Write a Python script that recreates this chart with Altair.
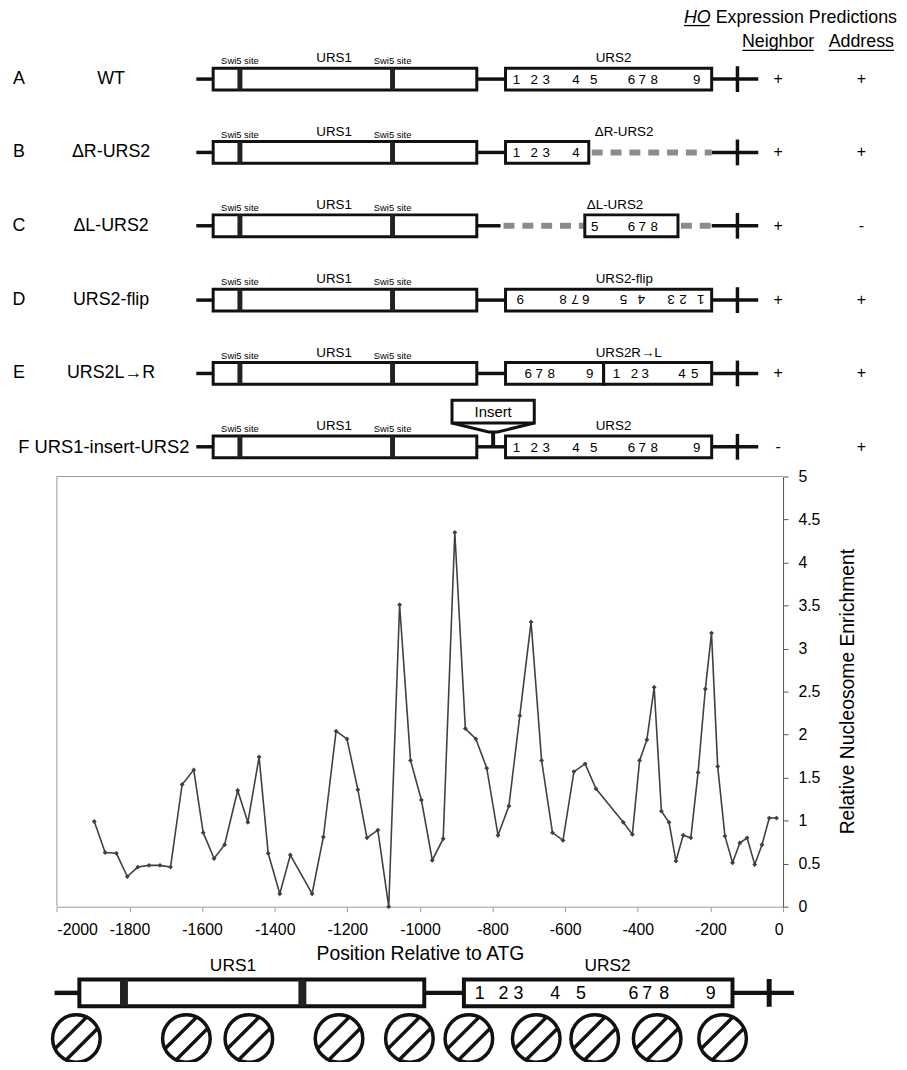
import altair as alt
import pandas as pd

# ---------------- data ----------------
POSITION = [-1897, -1867, -1836, -1806, -1777, -1746, -1716, -1687, -1655, -1623,
            -1597, -1567, -1538, -1502, -1474, -1443, -1418, -1386, -1357, -1297,
            -1266, -1231, -1201, -1171, -1146, -1116, -1086, -1056, -1026, -996,
            -966, -936, -904, -875, -846, -816, -785, -755, -725, -694,
            -665, -635, -606, -576, -545, -515, -440, -415, -395, -375,
            -355, -335, -314, -295, -275, -254, -234, -214, -197, -180,
            -160, -139, -119, -99, -78, -58, -38, -18]
ENRICHMENT = [0.99, 0.63, 0.62, 0.35, 0.46, 0.48, 0.48, 0.46, 1.42, 1.59,
              0.86, 0.56, 0.72, 1.35, 0.98, 1.74, 0.62, 0.15, 0.60, 0.15,
              0.81, 2.04, 1.95, 1.36, 0.80, 0.89, 0.00, 3.51, 1.70, 1.24,
              0.54, 0.79, 4.35, 2.07, 1.95, 1.61, 0.83, 1.17, 2.22, 3.31,
              1.70, 0.86, 0.77, 1.57, 1.66, 1.37, 0.98, 0.84, 1.70, 1.94,
              2.55, 1.11, 0.98, 0.53, 0.83, 0.80, 1.56, 2.53, 3.18, 1.63,
              0.82, 0.51, 0.74, 0.80, 0.49, 0.72, 1.03, 1.03]
X_TICKS = list(range(-2000, 1, 200))
Y_TICKS = [0, 0.5, 1, 1.5, 2, 2.5, 3, 3.5, 4, 4.5, 5]

ROW_LETTERS = ["A", "B", "C", "D", "E", "F"]
ROW_NAMES = ["WT", "\u0394R-URS2", "\u0394L-URS2", "URS2-flip", "URS2L\u2192R", "URS1-insert-URS2"]
URS2_NAMES = ["URS2", "\u0394R-URS2", "\u0394L-URS2", "URS2-flip", "URS2R\u2192L", "URS2"]
NEIGHBOR = ["+", "+", "+", "+", "+", "-"]
ADDRESS = ["+", "+", "-", "+", "+", "+"]
URS2_SITES = ["1", "2", "3", "4", "5", "6", "7", "8", "9"]
HEADER = "HO"
HEADER_REST = "Expression Predictions"
X_TITLE = "Position Relative to ATG"
Y_TITLE = "Relative Nucleosome Enrichment"

# ---------------- layout (schematic geometry, page pixels) ----------------
FONT = "Liberation Sans, Arial, Helvetica, sans-serif"
OX, OY = 8, 8          # page margin
W, H = 782, 902        # plot-area size used by the layered chart
PX = alt.Scale(domain=[OX, OX + W], range=[0, W], nice=False, zero=False)
PY = alt.Scale(domain=[OY, OY + H], range=[0, H], nice=False, zero=False)
XS = alt.Scale(domain=[-2000, 0], range=[57.3 - OX, 790 - OX], nice=False, zero=False)
YS = alt.Scale(domain=[0, 5], range=[910 - OY, 476 - OY], nice=False, zero=False)

ROW_Y = [75, 149, 223, 298, 372, 446]
HB = 11
URS1_BOX = (215, 481)
SWI5_X = [242, 396]
STUB = (198, 215)
RIGHT = (718, 765)
TICK_X = 744
URS2_BOXES = [[(510, 718)], [(510, 594)], [(590, 684)], [(510, 718)],
              [(510, 609), (609, 718)], [(510, 718)]]
CONNECT = [(481, 510), (481, 510), (481, 505), (481, 510), (481, 510), (481, 510)]
DASHES = [[], [(597, 718)], [(508, 590), (687, 718)], [], [], []]
SITE_X = [521, 539, 551, 581, 599, 637, 648, 660, 703]
ROW_SITES = [
    [(URS2_SITES[i], SITE_X[i], 0) for i in range(9)],
    [(URS2_SITES[i], SITE_X[i], 0) for i in range(4)],
    [("5", 600, 0), ("6", 637, 0), ("7", 648, 0), ("8", 660, 0)],
    [(URS2_SITES[i], 1228 - SITE_X[i], 180) for i in range(9)],
    [("6", 533, 0), ("7", 544, 0), ("8", 556, 0), ("9", 595, 0),
     ("1", 622, 0), ("2", 640, 0), ("3", 651, 0), ("4", 688, 0), ("5", 701, 0)],
    [(URS2_SITES[i], SITE_X[i], 0) for i in range(9)],
]
URS2_LABEL_LEFT = [601, 600, 592, 601, 601, 601]

# bottom map
BY = 997
B_BOXES = [(80, 428), (468, 739)]
B_SWI5 = [125, 305]
B_SITE_X = [484, 508, 523, 560, 586, 639, 653, 670, 717]
NUC_X = [77, 188, 251, 342, 413, 473, 541, 600, 663, 729]
NUC_Y = 1043
NUC_D = 48
NUC_PATH = ("M -1 0 A 1 1 0 1 1 1 0 A 1 1 0 1 1 -1 0 Z "
            "M -0.901 0.434 L 0.434 -0.901 M -0.434 0.901 L 0.901 -0.434")

# ---------------- build geometry tables ----------------
rects, bars, hlines, vlines, dashes = [], [], [], [], []
texts_c, texts_l, texts_r, texts_i, ulines = [], [], [], [], []

for i, cy in enumerate(ROW_Y):
    rects.append((URS1_BOX[0], URS1_BOX[1], cy - HB, cy + HB, 3))
    for (a, b) in URS2_BOXES[i]:
        rects.append((a, b, cy - HB, cy + HB, 3))
    for sx in SWI5_X:
        bars.append((sx - 2.5, sx + 2.5, cy - HB, cy + HB))
        texts_c.append((sx, cy - 18, "Swi5 site", 9.5, 0))
    hlines.append((STUB[0], STUB[1], cy, 3.5))
    hlines.append((CONNECT[i][0], CONNECT[i][1], cy, 3.5))
    hlines.append((RIGHT[0], RIGHT[1], cy, 3.5))
    vlines.append((TICK_X, cy - 13, cy + 13, 3.5))
    for (a, b) in DASHES[i]:
        dashes.append((a, b, cy))
    texts_c.append((337, cy - 21, "URS1", 13.5, 0))
    texts_l.append((URS2_LABEL_LEFT[i], cy - 21, URS2_NAMES[i], 13.5, 0))
    for (t, x, ang) in ROW_SITES[i]:
        texts_c.append((x, cy + (1 if ang == 0 else -1), t, 13.5, ang))
    texts_c.append((785, cy, NEIGHBOR[i], 16, 0))
    texts_c.append((869, cy, ADDRESS[i], 16, 0))
    if i < 5:
        texts_c.append((19, cy, ROW_LETTERS[i], 18, 0))
        texts_c.append((112, cy, ROW_NAMES[i], 18, 0))
    else:
        texts_r.append((191, cy, ROW_LETTERS[i] + " " + ROW_NAMES[i], 18.5, 0))

# Insert callout (row F)
rects.append((456, 539, 399, 422, 3))
texts_c.append((497.5, 411, "Insert", 15, 0))
callout = pd.DataFrame({"x": [456, 493, 502, 539], "y": [422, 431, 431, 422], "o": [0, 1, 2, 3]})
vlines.append((497.5, 431, 446, 4))

# header
texts_i.append((690, 13, HEADER, 18, 0))
texts_l.append((722, 13, HEADER_REST, 18, 0))
texts_c.append((785, 38, "Neighbor", 18, 0))
texts_c.append((869, 38, "Address", 18, 0))
ulines += [(690, 716, 21), (749, 821, 46), (836, 902, 46)]

# bottom map
for (a, b) in B_BOXES:
    rects.append((a, b, BY - 13.5, BY + 13.5, 4))
for sx in B_SWI5:
    bars.append((sx - 4, sx + 4, BY - 13.5, BY + 13.5))
hlines += [(55, 80, BY, 4.5), (428, 468, BY, 4.5), (739, 801, BY, 4.5)]
vlines.append((776, BY - 14, BY + 14, 5))
texts_c.append((235, 970, "URS1", 17.5, 0))
texts_c.append((613, 970, "URS2", 17.5, 0))
for t, x in zip(URS2_SITES, B_SITE_X):
    texts_c.append((x, BY + 1, t, 18, 0))

# y-axis title
texts_c.append((856, 693, Y_TITLE, 19.5, 270))


def px(f):
    return alt.X(f + ":Q", scale=PX, axis=None)


def py(f):
    return alt.Y(f + ":Q", scale=PY, axis=None)


def text_layer(rows, align="center", style="normal"):
    df = pd.DataFrame(rows, columns=["x", "y", "t", "fs", "ang"])
    return alt.Chart(df).mark_text(align=align, baseline="middle", font=FONT,
                                   fontStyle=style, color="black").encode(
        x=px("x"), y=py("y"), text="t:N",
        size=alt.Size("fs:Q", scale=None, legend=None),
        angle=alt.Angle("ang:Q", scale=None, legend=None))


rect_df = pd.DataFrame(rects, columns=["x", "x2", "y", "y2", "sw"])
bar_df = pd.DataFrame(bars, columns=["x", "x2", "y", "y2"])
hl_df = pd.DataFrame(hlines, columns=["x", "x2", "y", "sw"])
vl_df = pd.DataFrame(vlines, columns=["x", "y", "y2", "sw"])
dash_df = pd.DataFrame(dashes, columns=["x", "x2", "y"])
ul_df = pd.DataFrame(ulines, columns=["x", "x2", "y"])
nuc_df = pd.DataFrame({"x": NUC_X, "y": [NUC_Y] * len(NUC_X)})

layers = [
    alt.Chart(hl_df).mark_rule(color="#111111", strokeCap="butt").encode(
        x=px("x"), x2="x2:Q", y=py("y"), strokeWidth=alt.StrokeWidth("sw:Q", scale=None, legend=None)),
    alt.Chart(dash_df).mark_rule(color="#8c8c8c", strokeWidth=6, strokeDash=[11, 8], strokeCap="butt").encode(
        x=px("x"), x2="x2:Q", y=py("y")),
    alt.Chart(rect_df).mark_rect(fill="white", stroke="#111111").encode(
        x=px("x"), x2="x2:Q", y=py("y"), y2="y2:Q",
        strokeWidth=alt.StrokeWidth("sw:Q", scale=None, legend=None)),
    alt.Chart(bar_df).mark_rect(color="#222222").encode(
        x=px("x"), x2="x2:Q", y=py("y"), y2="y2:Q"),
    alt.Chart(vl_df).mark_rule(color="#111111", strokeCap="butt").encode(
        x=px("x"), y=py("y"), y2="y2:Q", strokeWidth=alt.StrokeWidth("sw:Q", scale=None, legend=None)),
    alt.Chart(callout).mark_line(color="#111111", strokeWidth=3).encode(
        x=px("x"), y=py("y"), order="o:Q"),
    alt.Chart(ul_df).mark_rule(color="black", strokeWidth=1.3).encode(
        x=px("x"), x2="x2:Q", y=py("y")),
    alt.Chart(nuc_df).mark_point(shape=NUC_PATH, size=NUC_D * NUC_D, filled=False,
                                 stroke="#111111", strokeWidth=3.5, opacity=1).encode(
        x=px("x"), y=py("y")),
    text_layer(texts_c, "center"),
    text_layer(texts_l, "left"),
    text_layer(texts_r, "right"),
    text_layer(texts_i, "left", "italic"),
]

# plot frame (top and left edges)
frame_top = pd.DataFrame({"a": [-2000], "b": [0], "v": [5]})
frame_left = pd.DataFrame({"a": [-2000], "v": [0], "v2": [5]})
layers.append(alt.Chart(frame_top).mark_rule(color="#9a9a9a", strokeWidth=1).encode(
    x=alt.X("a:Q", scale=XS, axis=None), x2="b:Q", y=alt.Y("v:Q", scale=YS, axis=None)))
layers.append(alt.Chart(frame_left).mark_rule(color="#9a9a9a", strokeWidth=1).encode(
    x=alt.X("a:Q", scale=XS, axis=None), y=alt.Y("v:Q", scale=YS, axis=None), y2="v2:Q"))

data = pd.DataFrame({"pos": POSITION, "val": ENRICHMENT})
x_axis = alt.Axis(values=X_TICKS, labelExpr="'' + datum.value", title=X_TITLE, grid=False,
                  domainColor="#9a9a9a", tickColor="#9a9a9a", tickSize=5, labelPadding=10,
                  labelFont=FONT, labelFontSize=16, labelColor="black",
                  titleFont=FONT, titleFontSize=19.5, titleFontWeight="normal",
                  titleColor="black", titlePadding=7)
y_axis = alt.Axis(orient="right", values=Y_TICKS, labelExpr="'' + datum.value", title=None,
                  grid=False, domainColor="#555555", tickColor="#555555", tickSize=5,
                  labelPadding=10, labelFont=FONT, labelFontSize=16, labelColor="black")
layers.append(alt.Chart(data).mark_line(color="#404040", strokeWidth=1.6).encode(
    x=alt.X("pos:Q", scale=XS, axis=x_axis), y=alt.Y("val:Q", scale=YS, axis=y_axis)))
layers.append(alt.Chart(data).mark_point(shape="diamond", filled=True, size=24,
                                         color="#404040", opacity=1).encode(
    x=alt.X("pos:Q", scale=XS, axis=None), y=alt.Y("val:Q", scale=YS, axis=None)))

chart = alt.layer(*layers).resolve_scale(x="independent", y="independent").properties(
    width=W, height=H,
    autosize=alt.AutoSizeParams(type="none"),
    padding={"left": 0, "top": 0, "right": 117, "bottom": 152},
).configure_view(stroke=None)

chart.save("out.html", embed_options={"renderer": "svg", "actions": False})
